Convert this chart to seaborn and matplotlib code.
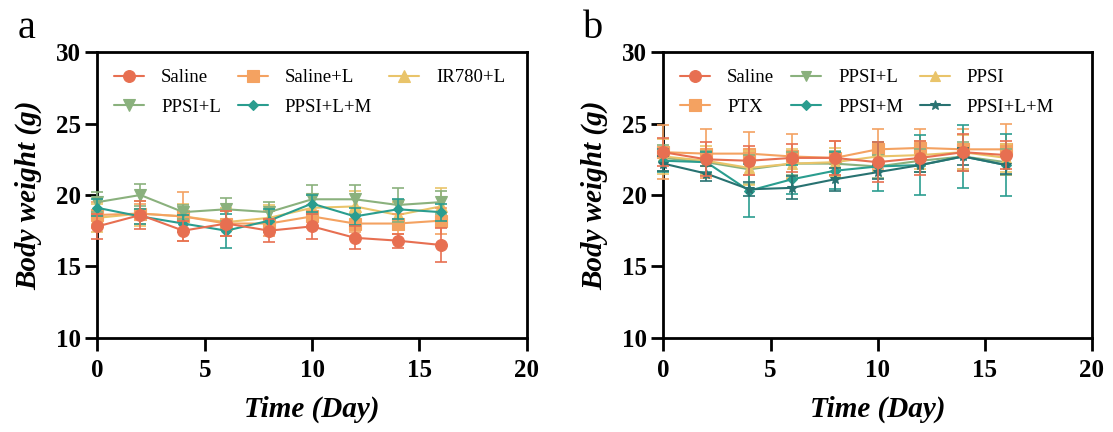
'''Body weight curves, panels a and b'''
import matplotlib
matplotlib.use('Agg')
import matplotlib.pyplot as plt
import seaborn as sns

#region data
days = [0, 2, 4, 6, 8, 10, 12, 14, 16]

# panel a
a_labels = ['Saline', 'Saline+L', 'IR780+L', 'PPSI+L', 'PPSI+L+M']
a_saline = [17.8, 18.6, 17.5, 18.0, 17.5, 17.8, 17.0, 16.8, 16.5]
a_saline_sd = [0.9, 1.0, 0.7, 0.9, 0.8, 0.9, 0.8, 0.5, 1.2]
a_saline_l = [18.6, 18.7, 18.5, 18.0, 18.0, 18.5, 18.0, 18.0, 18.2]
a_saline_l_sd = [0.9, 0.7, 1.7, 0.9, 0.9, 0.8, 0.6, 0.7, 0.9]
a_ir780_l = [18.4, 18.7, 18.5, 18.1, 18.4, 19.1, 19.2, 18.6, 19.2]
a_ir780_l_sd = [1.0, 0.9, 0.9, 1.0, 0.9, 0.9, 1.1, 0.9, 1.3]
a_ppsi_l = [19.5, 20.0, 18.8, 19.0, 18.8, 19.7, 19.7, 19.3, 19.5]
a_ppsi_l_sd = [0.7, 0.8, 0.5, 0.8, 0.7, 1.0, 1.0, 1.2, 0.8]
a_ppsi_lm = [19.1, 18.5, 18.0, 17.5, 18.2, 19.4, 18.5, 19.0, 18.8]
a_ppsi_lm_sd = [0.6, 0.5, 0.6, 1.2, 0.8, 0.6, 0.6, 0.7, 0.6]

# panel b
b_labels = ['Saline', 'PTX', 'PPSI+L', 'PPSI+M', 'PPSI', 'PPSI+L+M']
b_saline = [23.0, 22.5, 22.4, 22.6, 22.6, 22.3, 22.6, 23.0, 22.8]
b_saline_sd = [1.0, 1.2, 1.0, 1.0, 1.2, 1.4, 1.2, 1.3, 1.0]
b_ptx = [23.0, 22.9, 22.9, 22.7, 22.6, 23.2, 23.3, 23.2, 23.2]
b_ptx_sd = [1.9, 1.7, 1.5, 1.6, 1.2, 1.4, 1.3, 1.4, 1.8]
b_ppsi_l = [22.6, 22.3, 21.8, 22.2, 22.2, 22.0, 22.4, 22.7, 22.3]
b_ppsi_l_sd = [0.9, 0.8, 1.0, 0.8, 0.9, 0.8, 0.8, 1.0, 0.9]
b_ppsi_m = [22.4, 22.3, 20.3, 21.1, 21.7, 22.0, 22.1, 22.7, 22.1]
b_ppsi_m_sd = [0.8, 0.7, 1.85, 1.0, 1.3, 1.7, 2.1, 2.2, 2.2]
b_ppsi = [22.7, 22.4, 21.9, 22.2, 22.3, 22.7, 22.8, 23.0, 22.6]
b_ppsi_sd = [1.2, 1.0, 1.2, 1.0, 1.0, 1.0, 1.0, 1.2, 1.0]
b_ppsi_lm = [22.2, 21.5, 20.4, 20.5, 21.1, 21.6, 22.1, 22.7, 22.1]
b_ppsi_lm_sd = [0.5, 0.5, 0.5, 0.8, 0.8, 0.5, 0.5, 0.6, 0.6]

x_ticks = [0, 5, 10, 15, 20]
y_ticks = [10, 15, 20, 25, 30]
#endregion

#region styles
RED = '#E76F51'
ORANGE = '#F4A261'
YELLOW = '#E9C46A'
GREEN = '#8AB17D'
TEAL = '#2A9D8F'
DARKTEAL = '#287271'

a_series = [
    (a_saline, a_saline_sd, RED, 'o', 8.5, 6),
    (a_saline_l, a_saline_l_sd, ORANGE, 's', 8, 3),
    (a_ir780_l, a_ir780_l_sd, YELLOW, '^', 8, 2),
    (a_ppsi_l, a_ppsi_l_sd, GREEN, 'v', 8, 4),
    (a_ppsi_lm, a_ppsi_lm_sd, TEAL, 'D', 5.5, 5),
]
b_series = [
    (b_saline, b_saline_sd, RED, 'o', 8.5, 8),
    (b_ptx, b_ptx_sd, ORANGE, 's', 8, 3),
    (b_ppsi_l, b_ppsi_l_sd, GREEN, 'v', 7, 4),
    (b_ppsi_m, b_ppsi_m_sd, TEAL, 'D', 5.5, 5),
    (b_ppsi, b_ppsi_sd, YELLOW, '^', 7, 4),
    (b_ppsi_lm, b_ppsi_lm_sd, DARKTEAL, '*', 7, 6),
]
#endregion

sns.set_theme(style='ticks')
plt.rcParams['font.family'] = ['Liberation Serif', 'DejaVu Serif']
plt.rcParams['text.color'] = 'black'
plt.rcParams['axes.labelcolor'] = 'black'
plt.rcParams['xtick.color'] = 'black'
plt.rcParams['ytick.color'] = 'black'

fig = plt.figure(figsize=(11.13, 4.32), dpi=100)
ax_a = fig.add_axes([0.0876, 0.2183, 0.3855, 0.6606])
ax_b = fig.add_axes([0.5961, 0.2183, 0.3847, 0.6606])


def draw_panel(ax, series, labels, letter, letter_x):
    for (vals, sd, col, mk, ms, z), lab in zip(series, labels):
        ax.errorbar(days, vals, yerr=sd, fmt='none', ecolor=col, elinewidth=1.4,
                    capsize=4.5, capthick=1.4, alpha=0.85, zorder=z, clip_on=False)
        sns.lineplot(x=days, y=vals, ax=ax, color=col, marker=mk, markersize=ms,
                     markeredgecolor=col, markeredgewidth=0.8, linewidth=1.5,
                     label=lab, zorder=z + 0.5, clip_on=False)

    ax.set_xlim(0, 20)
    ax.set_ylim(10, 30)
    ax.set_xticks(x_ticks)
    ax.set_yticks(y_ticks)
    for sp in ax.spines.values():
        sp.set_linewidth(2.0)
        sp.set_color('black')
    ax.tick_params(axis='both', which='major', direction='out', length=9, width=2.0,
                   labelsize=18, colors='black', labelcolor='black', pad=3)
    ax.tick_params(axis='x', pad=6)
    for t in ax.get_xticklabels() + ax.get_yticklabels():
        t.set_fontweight('bold')
        t.set_color('black')

    ax.set_xlabel('Time (Day)', fontsize=21, fontweight='bold', fontstyle='italic',
                  labelpad=10, color='black')
    ax.set_ylabel('Body weight (g)', fontsize=21, fontweight='bold', fontstyle='italic',
                  labelpad=10, color='black')

    leg = ax.legend(ncol=3, frameon=False, fontsize=13.5, loc='upper left',
                    bbox_to_anchor=(0.0, 1.0), handlelength=1.6, handletextpad=0.9,
                    columnspacing=0.9, labelspacing=0.65, borderaxespad=0.5)
    for t in leg.get_texts():
        t.set_color('black')

    fig.text(letter_x, 0.935, letter, fontsize=29, ha='center', va='center', color='black')


# legend order in matplotlib columns: reorder so rows read like the original
a_order = [0, 3, 1, 4, 2]
draw_panel(ax_a, [a_series[i] for i in a_order], [a_labels[i] for i in a_order], 'a', 0.024)
draw_panel(ax_b, b_series, b_labels, 'b', 0.533)

fig.savefig('out.png', dpi=100)
